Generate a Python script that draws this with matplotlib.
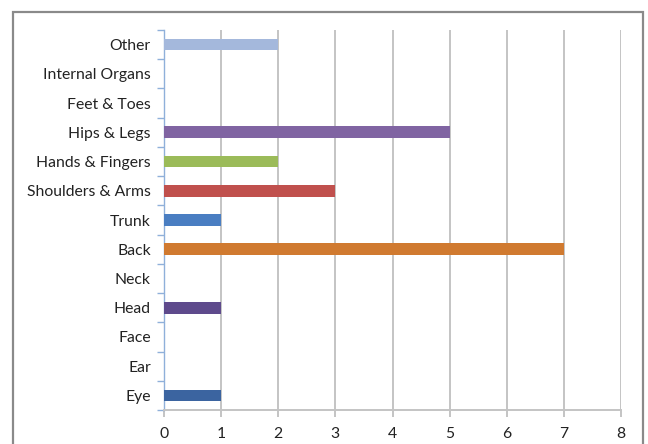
import matplotlib
matplotlib.use("Agg")
import matplotlib.pyplot as plt
from matplotlib.patches import Rectangle

categories = ["Eye", "Ear", "Face", "Head", "Neck", "Back", "Trunk",
              "Shoulders & Arms", "Hands & Fingers", "Hips & Legs",
              "Feet & Toes", "Internal Organs", "Other"]
values = [1, 0, 0, 1, 0, 7, 1, 3, 2, 5, 0, 0, 2]
colors = ["#3B64A0", "#3B64A0", "#3B64A0", "#5E4A8C", "#5E4A8C", "#D07A30",
          "#4A7EC2", "#C0504D", "#9BBB59", "#8064A2", "#8064A2", "#8064A2",
          "#A4B8DC"]
x_ticks = [0, 1, 2, 3, 4, 5, 6, 7, 8]

plt.rcParams["font.family"] = ["Lato", "DejaVu Sans"]

fig = plt.figure(figsize=(6.48, 4.44), dpi=100)
fig.patches.append(Rectangle((13 / 648, -0.05), 630 / 648, 1.05 - 12 / 444,
                             transform=fig.transFigure, fill=False,
                             edgecolor="#8A8A8A", linewidth=1.6))

ax = fig.add_axes([164 / 648, 34 / 444, 457 / 648, 380 / 444])
pos = list(range(len(categories)))
ax.barh(pos, values, height=0.4, color=colors, zorder=3)

ax.set_xlim(0, 8)
ax.set_ylim(-0.5, len(categories) - 0.5)
ax.set_xticks(x_ticks)
ax.set_yticks(pos)
ax.set_yticklabels(categories)
ax.set_yticks([p - 0.5 for p in pos] + [len(categories) - 0.5], minor=True)

ax.grid(axis="x", color="#C4C4C4", linewidth=1.4, zorder=0)
for s in ["top", "right"]:
    ax.spines[s].set_visible(False)
ax.spines["left"].set_color("#8FB0DA")
ax.spines["left"].set_linewidth(1.0)
ax.spines["bottom"].set_color("#C4C4C4")
ax.spines["bottom"].set_linewidth(1.4)

ax.tick_params(axis="y", which="major", length=0, pad=9.5, labelsize=11.3,
               labelcolor="#222222")
ax.tick_params(axis="y", which="minor", length=5, color="#8FB0DA", width=1.0)
ax.tick_params(axis="x", length=5, color="#C4C4C4", width=1.4, pad=7,
               labelsize=11.3, labelcolor="#222222")

fig.savefig("out.png", dpi=100, facecolor="white")
